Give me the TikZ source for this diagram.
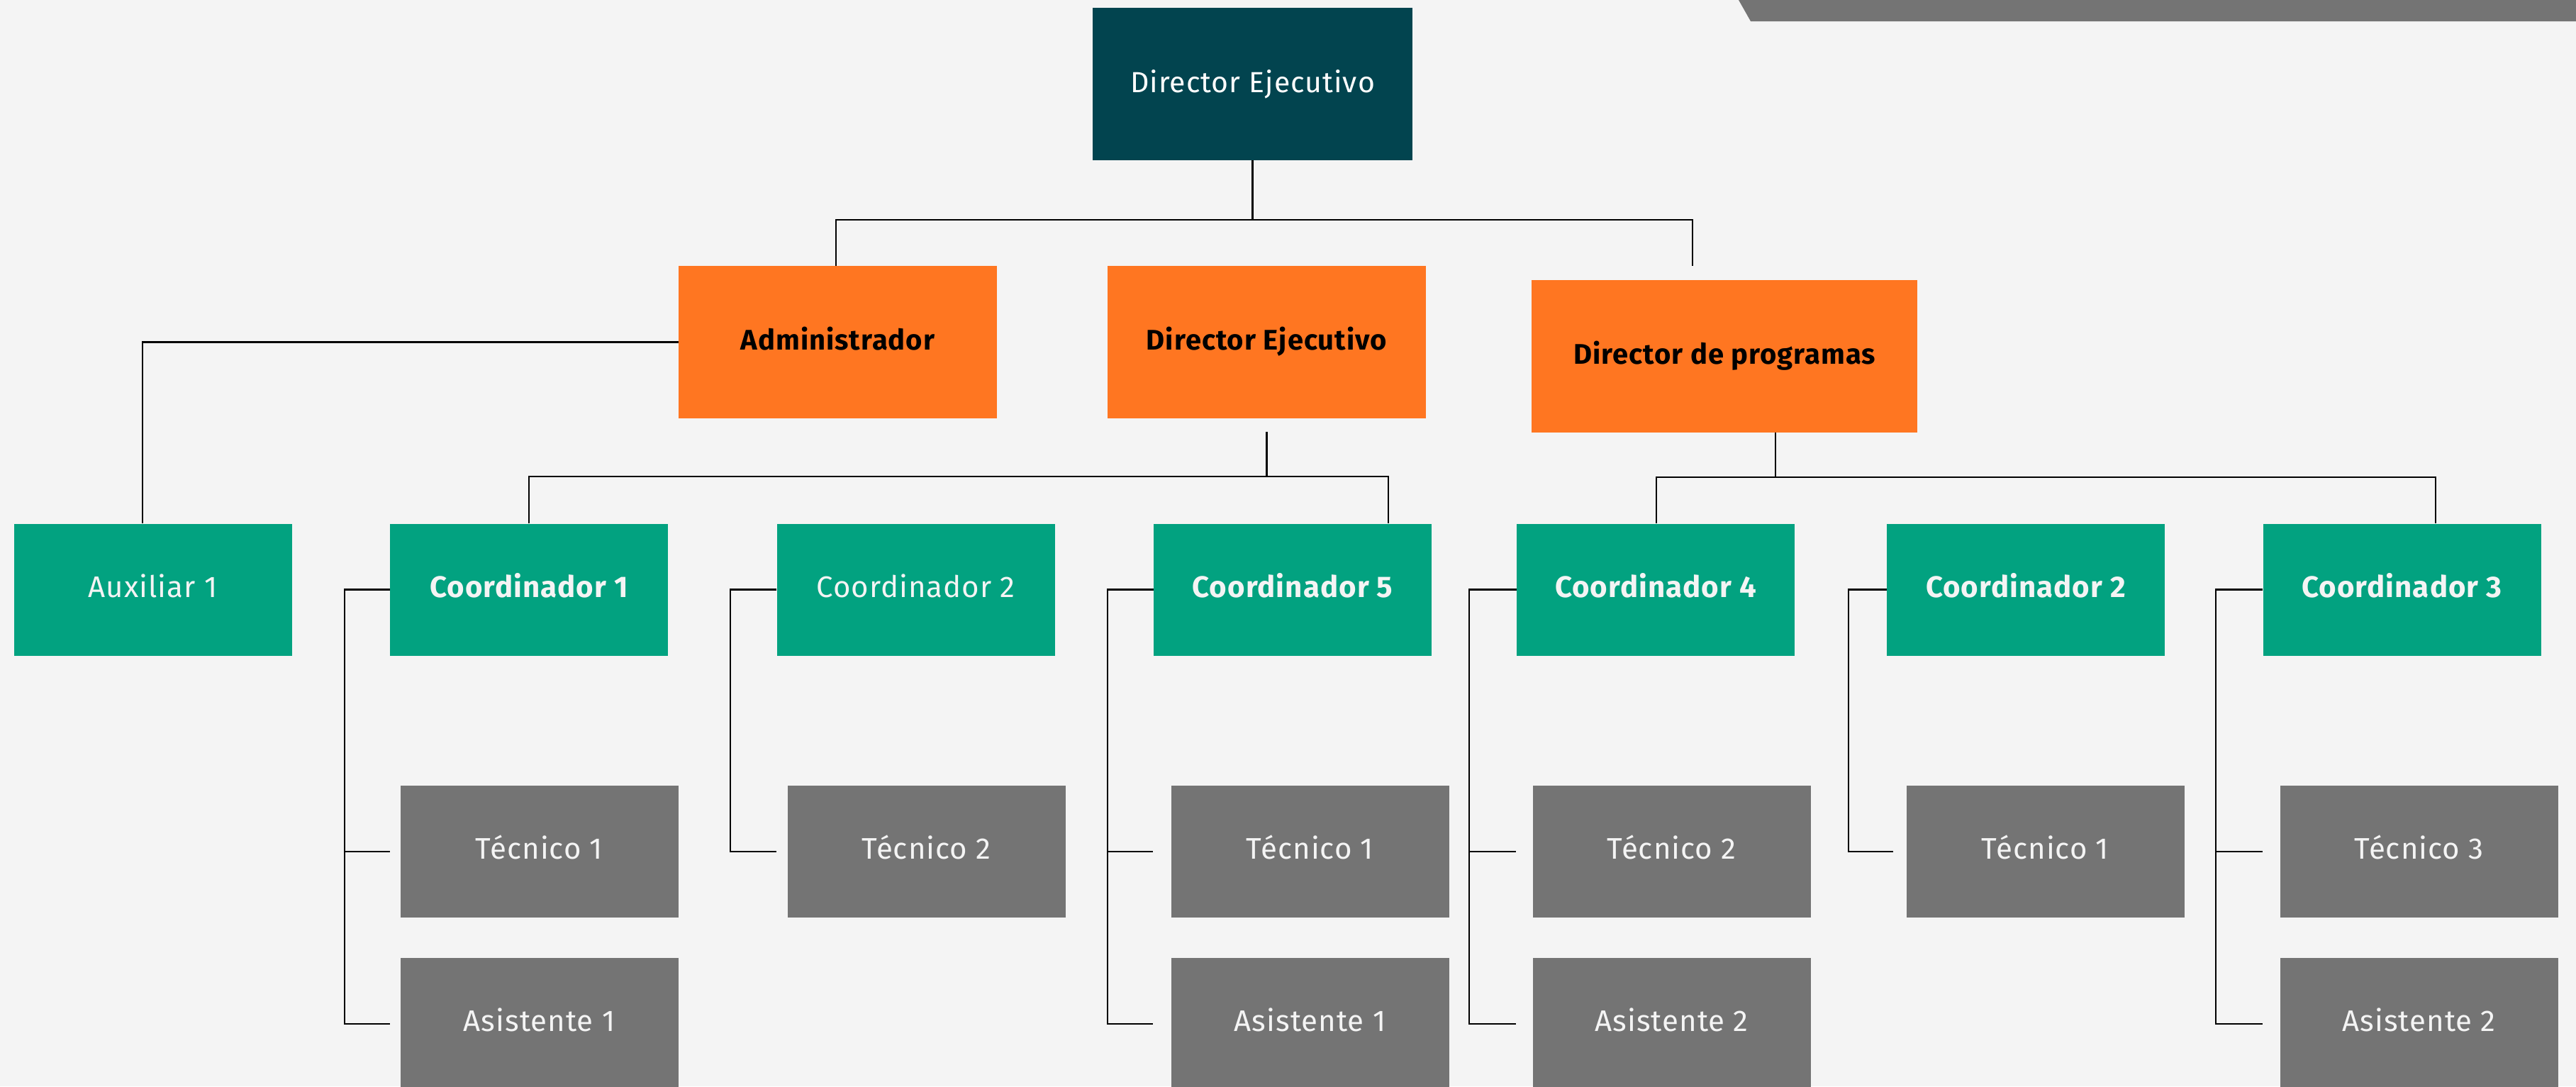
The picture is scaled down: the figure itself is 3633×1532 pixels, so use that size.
\documentclass[tikz,border=0pt]{standalone}
\usepackage{fontspec}
\setmainfont{Fira Sans}[LetterSpace=2.5]
\definecolor{bgc}{HTML}{F4F4F4}
\definecolor{tealc}{HTML}{02444F}
\definecolor{orangec}{HTML}{FF7621}
\definecolor{greenc}{HTML}{02A280}
\definecolor{grayc}{HTML}{747474}
\tikzset{
  box/.style={inner sep=0pt, minimum height=186pt, text=bgc, text height=31pt, text depth=10pt},
  topbox/.style={inner sep=0pt, fill=tealc, minimum width=451pt, minimum height=215pt, text=white, font=\fontsize{41}{46}\selectfont},
  orbox/.style={box, fill=orangec, minimum width=449pt, minimum height=215pt, text=black, font=\bfseries\fontsize{40}{46}\selectfont},
  grbox/.style={box, fill=greenc, minimum width=392pt, font=\fontsize{42}{48}\selectfont},
  grboxb/.style={grbox, font=\bfseries\fontsize{42}{48}\selectfont},
  gybox/.style={box, fill=grayc, minimum width=392pt, minimum height=186pt, font=\fontsize{42}{48}\selectfont},
  conn/.style={line width=2.2pt, black}
}
\begin{document}
\begin{tikzpicture}[x=1pt, y=-1pt]
\fill[bgc] (0,0) rectangle (3633,1532);
\clip (0,0) rectangle (3633,1532);
\fill[grayc] (2452,0) -- (3633,0) -- (3633,30) -- (2469,30) -- cycle;

% top level
\node[topbox] (top) at (1766.5,118.5) {Director Ejecutivo};
% second level
\node[orbox] (adm) at (1181.5,482.5) {Administrador};
\node[orbox] (dej) at (1786.5,482.5) {Director Ejecutivo};
\node[orbox, minimum width=544pt] (dpr) at (2432,502.5) {Director de programas};
% third level
\node[grbox] (aux) at (215.5,831.5) {Auxiliar 1};
\node[grboxb] (c1) at (746,831.5) {Coordinador 1};
\node[grbox] (c2) at (1291.5,831.5) {Coordinador 2};
\node[grboxb] (c5) at (1823,831.5) {Coordinador 5};
\node[grboxb] (c4) at (2335,831.5) {Coordinador 4};
\node[grboxb] (c2b) at (2857,831.5) {Coordinador 2};
\node[grboxb] (c3) at (3387.5,831.5) {Coordinador 3};
% fourth level
\node[gybox] (t1) at (760.5,1201) {Técnico 1};
\node[gybox] (t2) at (1306.5,1201) {Técnico 2};
\node[gybox] (t3) at (1847.5,1201) {Técnico 1};
\node[gybox] (t4) at (2357.5,1201) {Técnico 2};
\node[gybox] (t5) at (2884.5,1201) {Técnico 1};
\node[gybox] (t6) at (3411.5,1201) {Técnico 3};
% fifth level
\node[gybox] (a1) at (760.5,1444) {Asistente 1};
\node[gybox] (a3) at (1847.5,1444) {Asistente 1};
\node[gybox] (a4) at (2357.5,1444) {Asistente 2};
\node[gybox] (a6) at (3411.5,1444) {Asistente 2};

% connectors top -> second
\coordinate (ru) at (2387,375);
\draw[conn] (top.south) -- ++(0,84) coordinate (j0);
\draw[conn] (adm.north -| 1179,0) |- (j0) -| (ru);
% admin -> auxiliar
\draw[conn] (adm.west) -| (aux.north -| 201,0);
% director ejecutivo -> coordinators
\draw[conn] ([yshift=-19pt]dej.south) -- ++(0,63) coordinate (j1);
\draw[conn] (c1.north) |- (j1) -| ([xshift=-61pt]c5.north east);
\draw[conn] (c2.north -| 1315,0) -- (c2.north -| 1315,672);
% director de programas -> coordinators
\draw[conn] (dpr.south -| 2504,0) -- ++(0,63) coordinate (j2);
\draw[conn] (c4.north -| 2336,0) |- (j2) -| (c3.north -| 3435,0);
\draw[conn] (c2b.north -| 2852,0) -- (c2b.north -| 2852,677);
% coordinator 1
\draw[conn] (c1.west) -- ++(-64,0) coordinate (k1) |- (a1.west -| c1.west);
\draw[conn] (k1 |- t1.west) -- (t1.west -| c1.west);
% coordinator 2
\draw[conn] (c2.west) -- ++(-65,0) |- ([xshift=-15pt]t2.west);
% coordinator 5
\draw[conn] (c5.west) -- ++(-65,0) coordinate (k5) |- ([xshift=-25pt]a3.west);
\draw[conn] (k5 |- t3.west) -- ([xshift=-25pt]t3.west);
% coordinator 4
\draw[conn] (c4.west) -- ++(-67,0) coordinate (k4) |- ([xshift=-23pt]a4.west);
\draw[conn] (k4 |- t4.west) -- ([xshift=-23pt]t4.west);
% coordinator 2b
\draw[conn] (c2b.west) -- ++(-54,0) |- ([xshift=-18pt]t5.west);
% coordinator 3
\draw[conn] (c3.west) -- ++(-66,0) coordinate (k6) |- ([xshift=-24pt]a6.west);
\draw[conn] (k6 |- t6.west) -- ([xshift=-24pt]t6.west);
\end{tikzpicture}
\end{document}
